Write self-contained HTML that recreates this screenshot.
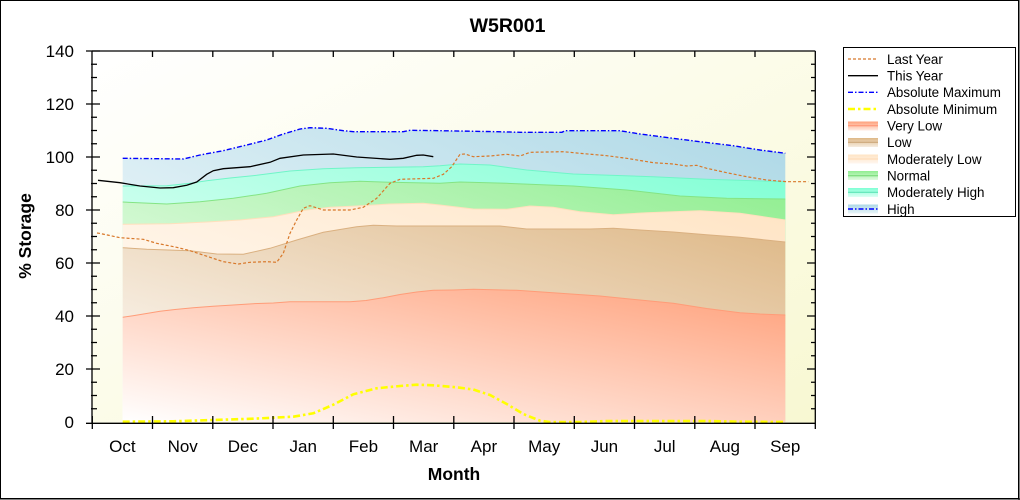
<!DOCTYPE html>
<html><head><meta charset="utf-8"><style>
html,body{margin:0;padding:0;background:#fff;}
svg{display:block;font-family:"Liberation Sans",Arial,sans-serif;}
</style></head><body>
<svg width="1020" height="500" viewBox="0 0 1020 500" xmlns="http://www.w3.org/2000/svg">
<defs>
<linearGradient id="bg" x1="0" y1="0" x2="1" y2="1"><stop offset="0" stop-color="#ffffff"/><stop offset="1" stop-color="#f8f8d2"/></linearGradient>
<linearGradient id="gHI" x1="0" y1="1" x2="1" y2="0"><stop offset="0" stop-color="#ffffff"/><stop offset="1" stop-color="#add8e6"/></linearGradient>
<linearGradient id="gMH" x1="0" y1="1" x2="1" y2="0"><stop offset="0" stop-color="#ffffff"/><stop offset="1" stop-color="#7fffd4"/></linearGradient>
<linearGradient id="gNO" x1="0" y1="1" x2="1" y2="0"><stop offset="0" stop-color="#ffffff"/><stop offset="1" stop-color="#90ee90"/></linearGradient>
<linearGradient id="gML" x1="0" y1="1" x2="1" y2="0"><stop offset="0" stop-color="#ffffff"/><stop offset="1" stop-color="#ffe4c4"/></linearGradient>
<linearGradient id="gLO" x1="0" y1="1" x2="1" y2="0"><stop offset="0" stop-color="#ffffff"/><stop offset="1" stop-color="#deb887"/></linearGradient>
<linearGradient id="gVL" x1="0" y1="1" x2="1" y2="0"><stop offset="0" stop-color="#ffffff"/><stop offset="1" stop-color="#ffa07a"/></linearGradient>
<linearGradient id="sVL" x1="0" y1="0" x2="0" y2="1"><stop offset="0" stop-color="#ffa07a"/><stop offset="1" stop-color="#ffece4"/></linearGradient>
<linearGradient id="sLO" x1="0" y1="0" x2="0" y2="1"><stop offset="0" stop-color="#deb887"/><stop offset="1" stop-color="#f6ece0"/></linearGradient>
<linearGradient id="sML" x1="0" y1="0" x2="0" y2="1"><stop offset="0" stop-color="#ffe4c4"/><stop offset="1" stop-color="#fff6ee"/></linearGradient>
<linearGradient id="sNO" x1="0" y1="0" x2="0" y2="1"><stop offset="0" stop-color="#90ee90"/><stop offset="1" stop-color="#e0fae0"/></linearGradient>
<linearGradient id="sMH" x1="0" y1="0" x2="0" y2="1"><stop offset="0" stop-color="#7fffd4"/><stop offset="1" stop-color="#dcfff4"/></linearGradient>
<linearGradient id="sHI" x1="0" y1="0" x2="0" y2="1"><stop offset="0" stop-color="#add8e6"/><stop offset="1" stop-color="#e8f4f8"/></linearGradient>
</defs>

<!-- outer border -->
<rect x="0.5" y="0.5" width="1018" height="498" fill="#fff" stroke="#000" stroke-width="1"/>
<line x1="1019" y1="0" x2="1019" y2="500" stroke="#000" stroke-width="1"/>
<line x1="0" y1="499" x2="1020" y2="499" stroke="#000" stroke-width="1"/>

<!-- title -->
<text x="507.5" y="32" font-size="19.5" font-weight="bold" text-anchor="middle" fill="#000">W5R001</text>

<!-- plot background -->
<rect x="92" y="51" width="723" height="372" fill="url(#bg)"/>

<!-- bands (areas from 0) -->
<polygon fill="url(#gHI)" points="122.7,158.3 183.3,159 200,155 223.3,150.7 246.7,145 266.7,140 283.3,134 300,129 310,127.7 326.7,128.3 343.3,130.7 353.3,131.7 403.3,131.7 410,130.3 440,130.7 497,131.7 520,132.3 562,132.3 565,130.7 620,130.7 640,134 653,135.7 673,138.3 700,141.7 733,145.7 760,150 785.3,153.3 785.3,422 122.7,422"/>
<polygon fill="url(#gMH)" points="122.7,186 166.7,185.7 190,183.3 206.7,180.7 230,178 256.7,175.3 290,171 323.3,168.7 356.7,167.7 423.3,166.7 440,165.7 460,164 490,165 526.7,170 573.3,174 653.3,176.7 706.7,179.3 785.3,181.7 785.3,422 122.7,422"/>
<polyline fill="none" stroke="#70f5c8" stroke-width="1" points="122.7,186 166.7,185.7 190,183.3 206.7,180.7 230,178 256.7,175.3 290,171 323.3,168.7 356.7,167.7 423.3,166.7 440,165.7 460,164 490,165 526.7,170 573.3,174 653.3,176.7 706.7,179.3 785.3,181.7"/>
<polygon fill="url(#gNO)" points="122.7,202 166.7,204 200,201.7 233.3,198.3 266.7,193.3 300,186 330,182.7 360,181.3 390,182.3 440,183.3 460,182 506.7,183.3 573.3,186 626.7,190 680,196 726.7,198.3 785.3,199 785.3,422 122.7,422"/>
<polyline fill="none" stroke="#84e484" stroke-width="1" points="122.7,202 166.7,204 200,201.7 233.3,198.3 266.7,193.3 300,186 330,182.7 360,181.3 390,182.3 440,183.3 460,182 506.7,183.3 573.3,186 626.7,190 680,196 726.7,198.3 785.3,199"/>
<polygon fill="url(#gML)" points="122.7,224.3 170,223.7 206.7,222 240,220 273.3,216.7 306.7,210 330,207.3 356.7,206 390,204 423.3,203.3 440,205 473.3,209 506.7,209.3 530,206 553.3,207.3 580,211.7 613.3,214.7 646.7,212.7 700,210.7 740,213.3 763.3,216.7 785.3,220 785.3,422 122.7,422"/>
<polyline fill="none" stroke="#ffe0bc" stroke-width="1" points="122.7,224.3 170,223.7 206.7,222 240,220 273.3,216.7 306.7,210 330,207.3 356.7,206 390,204 423.3,203.3 440,205 473.3,209 506.7,209.3 530,206 553.3,207.3 580,211.7 613.3,214.7 646.7,212.7 700,210.7 740,213.3 763.3,216.7 785.3,220"/>
<polygon fill="url(#gLO)" points="122.7,247.7 146.7,249.3 190,250.7 216.7,254 243.3,254.3 270,248.3 296.7,240 323.3,232.3 356.7,226.7 373.3,225.3 396.7,226 440,226 500,226 526.7,229 590,229 613.3,228.3 640,230 673.3,232 706.7,234.7 740,237.3 785.3,242 785.3,422 122.7,422"/>
<polyline fill="none" stroke="#dab080" stroke-width="1" points="122.7,247.7 146.7,249.3 190,250.7 216.7,254 243.3,254.3 270,248.3 296.7,240 323.3,232.3 356.7,226.7 373.3,225.3 396.7,226 440,226 500,226 526.7,229 590,229 613.3,228.3 640,230 673.3,232 706.7,234.7 740,237.3 785.3,242"/>
<polygon fill="url(#gVL)" points="122.7,317.3 133,315.7 145,313.7 160,311.3 175,309.5 193.3,307.7 213,306.3 233.3,305 253,303.7 273.3,303 290,301.7 350,301.7 366,300.5 383.3,297.7 400,294.5 416.7,292 433.3,290.3 453.3,290 473.3,289.3 516.7,290.3 556.7,293 600,296 640,300 673.3,303.3 706.7,308.5 740,312.7 760,314 785.3,315 785.3,422 122.7,422"/>
<polyline fill="none" stroke="#ff9c78" stroke-width="1" points="122.7,317.3 133,315.7 145,313.7 160,311.3 175,309.5 193.3,307.7 213,306.3 233.3,305 253,303.7 273.3,303 290,301.7 350,301.7 366,300.5 383.3,297.7 400,294.5 416.7,292 433.3,290.3 453.3,290 473.3,289.3 516.7,290.3 556.7,293 600,296 640,300 673.3,303.3 706.7,308.5 740,312.7 760,314 785.3,315"/>

<!-- abs max -->
<polyline fill="none" stroke="#0000ff" stroke-width="1.4" stroke-dasharray="5,2,1.5,2" points="122.7,158.3 183.3,159 200,155 223.3,150.7 246.7,145 266.7,140 283.3,134 300,129 310,127.7 326.7,128.3 343.3,130.7 353.3,131.7 403.3,131.7 410,130.3 440,130.7 497,131.7 520,132.3 562,132.3 565,130.7 620,130.7 640,134 653,135.7 673,138.3 700,141.7 733,145.7 760,150 785.3,153.3"/>
<!-- abs min -->
<polyline fill="none" stroke="#ffff00" stroke-width="2.6" stroke-dasharray="7,3,2.5,3" points="122.7,421.7 173.3,421.3 213.3,420 253.3,418.7 293.3,416.7 313.3,413.3 333.3,404.7 353.3,394.3 376.7,388.3 400,386 416.7,384.7 433.3,385.3 456.7,387.3 473.3,389.5 490,395 506.7,404 523.3,414 540,420.7 550,422 580,422 606.7,421 706.7,421 740,421.7 785.3,422"/>
<!-- last year -->
<polyline fill="none" stroke="#d8782a" stroke-width="1.2" stroke-dasharray="3,2" points="97,233 99.3,233.3 120,237.7 143.3,239.3 156.7,243.3 176.7,247.3 190,250.7 200,254 210,257.3 223.3,261.7 238.3,264 250,262.3 266.7,261.7 276.7,262.3 283.3,253.3 290,233.3 296.7,220 303.3,208.3 310,205.7 323.3,210 350,210 363.3,207.3 376.7,198.3 390,183.3 400,179.3 433.3,178.3 443.3,174.3 451.7,166.7 460,154.3 465,154 473.3,156.7 490,156 506.7,154.3 520,156 530,152.3 563.3,151.7 580,153.3 606.7,155.7 626.7,158.3 653.3,162.7 673.3,164 686.7,166 696.7,165.3 706.7,168.3 726.7,172.7 746.7,176.7 766.7,180 786.7,181.7 808.3,181.7"/>
<!-- this year -->
<polyline fill="none" stroke="#000" stroke-width="1.3" points="98,180.3 120,182.7 140,186 160,188 173.3,187.7 186.7,185.3 196.7,182 206.7,174.3 213.3,170.7 223.3,168.7 250,166.7 270,162.3 280,158.3 303.3,155 333.3,154 356.7,157 390,159.3 403.3,158.3 416.7,155.3 423.3,155 433.3,156.7"/>

<!-- axes frame -->
<g stroke="#000" stroke-width="1.3" fill="none">
<line x1="92" y1="51" x2="815.3" y2="51"/>
<line x1="92" y1="51" x2="92" y2="423.3"/>
<line x1="815.3" y1="51" x2="815.3" y2="429"/>
<line x1="86" y1="423.3" x2="815.3" y2="423.3"/>
</g>
<g stroke="#000" stroke-width="1.3">
<!-- bottom ticks -->
<path d="M92.3,416V429M152.5,416V429M212.8,416V429M273,416V429M333.3,416V429M393.5,416V429M453.8,416V429M514,416V429M574.3,416V429M634.5,416V429M694.8,416V429M755,416V429"/>
<!-- top ticks -->
<path d="M152.5,51V57M212.8,51V57M273,51V57M333.3,51V57M393.5,51V57M453.8,51V57M514,51V57M574.3,51V57M634.5,51V57M694.8,51V57M755,51V57"/>
<!-- left major -->
<path d="M86,51H100M86,104H100M86,157H100M86,210H100M86,263H100M86,316H100M86,369H100"/>
<!-- left minor -->
<path d="M91,64.25H97M91,77.5H97M91,90.75H97M91,117.25H97M91,130.5H97M91,143.75H97M91,170.25H97M91,183.5H97M91,196.75H97M91,223.25H97M91,236.5H97M91,249.75H97M91,276.25H97M91,289.5H97M91,302.75H97M91,329.25H97M91,342.5H97M91,355.75H97M91,382.25H97M91,395.5H97M91,408.75H97"/>
<!-- right major -->
<path d="M807,104H815M807,157H815M807,210H815M807,263H815M807,316H815M807,369H815"/>
<!-- right minor -->
<path d="M811,64.25H815M811,77.5H815M811,90.75H815M811,117.25H815M811,130.5H815M811,143.75H815M811,170.25H815M811,183.5H815M811,196.75H815M811,223.25H815M811,236.5H815M811,249.75H815M811,276.25H815M811,289.5H815M811,302.75H815M811,329.25H815M811,342.5H815M811,355.75H815M811,382.25H815M811,395.5H815M811,408.75H815"/>
</g>

<!-- y labels -->
<g font-size="17" text-anchor="end" fill="#000">
<text x="74" y="57">140</text>
<text x="74" y="110">120</text>
<text x="74" y="163">100</text>
<text x="74" y="216">80</text>
<text x="74" y="269">60</text>
<text x="74" y="322">40</text>
<text x="74" y="375">20</text>
<text x="74" y="428">0</text>
</g>
<!-- x labels -->
<g font-size="17" text-anchor="middle" fill="#000">
<text x="122.4" y="452">Oct</text>
<text x="182.7" y="452">Nov</text>
<text x="242.9" y="452">Dec</text>
<text x="303.2" y="452">Jan</text>
<text x="363.4" y="452">Feb</text>
<text x="423.7" y="452">Mar</text>
<text x="483.9" y="452">Apr</text>
<text x="544.2" y="452">May</text>
<text x="604.4" y="452">Jun</text>
<text x="664.7" y="452">Jul</text>
<text x="724.9" y="452">Aug</text>
<text x="785.2" y="452">Sep</text>
</g>
<text x="454" y="480" font-size="17.5" font-weight="bold" text-anchor="middle" fill="#000">Month</text>
<text transform="translate(31,236) rotate(-90)" font-size="17.5" font-weight="bold" text-anchor="middle" fill="#000">% Storage</text>

<!-- legend -->
<rect x="843.5" y="47.5" width="172" height="169" fill="#fff" stroke="#000" stroke-width="1"/>
<line x1="848" y1="59" x2="878" y2="59" stroke="#d8782a" stroke-width="1.2" stroke-dasharray="3,2"/>
<line x1="848" y1="75.7" x2="878" y2="75.7" stroke="#000" stroke-width="1.3"/>
<line x1="848" y1="92.3" x2="878" y2="92.3" stroke="#0000ff" stroke-width="1.4" stroke-dasharray="5,2,1.5,2"/>
<line x1="848" y1="109" x2="878" y2="109" stroke="#ffff00" stroke-width="2.6" stroke-dasharray="7,3,2.5,3"/>
<rect x="848" y="121.5" width="30" height="9" fill="url(#sVL)"/><line x1="848" y1="125.7" x2="878" y2="125.7" stroke="#ff9070" stroke-width="1"/>
<rect x="848" y="138" width="30" height="9" fill="url(#sLO)"/><line x1="848" y1="142.3" x2="878" y2="142.3" stroke="#c8a070" stroke-width="1"/>
<rect x="848" y="154.5" width="30" height="9" fill="url(#sML)"/><line x1="848" y1="159" x2="878" y2="159" stroke="#ffd8b0" stroke-width="1"/>
<rect x="848" y="171" width="30" height="9" fill="url(#sNO)"/><line x1="848" y1="175.7" x2="878" y2="175.7" stroke="#70d870" stroke-width="1"/>
<rect x="848" y="188" width="30" height="9" fill="url(#sMH)"/><line x1="848" y1="192.3" x2="878" y2="192.3" stroke="#50e0b0" stroke-width="1"/>
<rect x="848" y="204.5" width="30" height="9" fill="url(#sHI)"/><line x1="848" y1="209" x2="878" y2="209" stroke="#0000ff" stroke-width="1.4" stroke-dasharray="5,2,1.5,2"/>
<g font-size="13.4" fill="#000">
<text x="887" y="63.8">Last Year</text>
<text x="887" y="80.5">This Year</text>
<text x="887" y="97.1">Absolute Maximum</text>
<text x="887" y="113.8">Absolute Minimum</text>
<text x="887" y="130.5">Very Low</text>
<text x="887" y="147.1">Low</text>
<text x="887" y="163.8">Moderately Low</text>
<text x="887" y="180.5">Normal</text>
<text x="887" y="197.1">Moderately High</text>
<text x="887" y="213.8">High</text>
</g>
</svg>
</body></html>
